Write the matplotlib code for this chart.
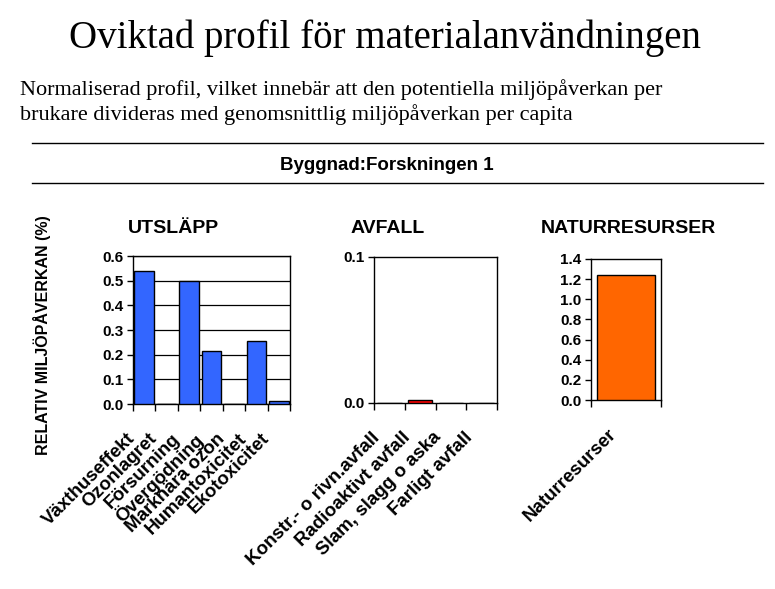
import numpy as np
import matplotlib
matplotlib.use("Agg")
import matplotlib.pyplot as plt
from matplotlib.lines import Line2D
from matplotlib.transforms import ScaledTranslation

plt.rcParams['font.family'] = ['Liberation Sans', 'DejaVu Sans']

# data
utslapp_cats = ['Växthuseffekt', 'Ozonlagret', 'Försurning', 'Övergödning',
                'Marknära ozon', 'Humantoxicitet', 'Ekotoxicitet']
utslapp_vals = [0.54, 0.0, 0.50, 0.215, 0.0, 0.255, 0.012]

avfall_cats = ['Konstr.- o rivn.avfall', 'Radioaktivt avfall',
               'Slam, slagg o aska', 'Farligt avfall']
avfall_vals = [0.0, 0.002, 0.0, 0.0]

natur_cats = ['Naturresurser']
natur_vals = [1.245]

W, H = 775, 589


def px_axes(fig, x0, y0, x1, y1):
    return fig.add_axes([x0 / W, 1 - y1 / H, (x1 - x0) / W, (y1 - y0) / H])


def style_panel(fig, ax, cats, vals, color, width, ylim, yticks, grid=False):
    n = len(cats)
    x = np.arange(n)
    ax.bar(x, vals, width=width, color=color, edgecolor='black', linewidth=1.0, zorder=3)
    ax.set_xlim(-0.5, n - 0.5)
    ax.set_ylim(*ylim)
    ax.set_yticks(yticks)
    ax.set_yticklabels([f'{v:.1f}' for v in yticks], fontsize=11, fontweight='bold')
    # category labels at centres, tick marks at category boundaries
    ax.set_xticks(x)
    ax.set_xticklabels(cats, rotation=45, ha='right', va='top', rotation_mode='anchor',
                       fontsize=13.5, fontweight='bold')
    ax.tick_params(axis='x', which='major', length=0, pad=0)
    shift = ScaledTranslation(-18 / 100, -26 / 100, fig.dpi_scale_trans)
    for lab in ax.get_xticklabels():
        lab.set_transform(lab.get_transform() + shift)
    ax.set_xticks(np.arange(n + 1) - 0.5, minor=True)
    ax.tick_params(axis='x', which='minor', length=5, width=1.0, direction='out')
    ax.tick_params(axis='y', length=4, width=1.0, direction='out', pad=3)
    for s in ax.spines.values():
        s.set_linewidth(1.0)
        s.set_color('black')
    if grid:
        ax.yaxis.grid(True, color='black', linewidth=0.9, zorder=0)


fig = plt.figure(figsize=(W / 100, H / 100), dpi=100)

fig.text(385 / W, 1 - 48 / H, 'Oviktad profil för materialanvändningen',
         ha='center', va='baseline', fontsize=28, family='Liberation Serif')
fig.text(20 / W, 1 - 95 / H,
         'Normaliserad profil, vilket innebär att den potentiella miljöpåverkan per',
         ha='left', va='baseline', fontsize=16, family='Liberation Serif')
fig.text(20 / W, 1 - 120 / H,
         'brukare divideras med genomsnittlig miljöpåverkan per capita',
         ha='left', va='baseline', fontsize=16, family='Liberation Serif')

fig.add_artist(Line2D([32 / W, 763 / W], [1 - 143 / H, 1 - 143 / H], color='black', linewidth=1.0))
fig.add_artist(Line2D([32 / W, 763 / W], [1 - 183 / H, 1 - 183 / H], color='black', linewidth=1.0))
fig.text(387 / W, 1 - 170 / H, 'Byggnad:Forskningen 1', ha='center', va='baseline',
         fontsize=13.5, fontweight='bold')

ax1 = px_axes(fig, 133, 256, 290, 404)
style_panel(fig, ax1, utslapp_cats, utslapp_vals, '#3366FF', 0.87, (0, 0.6),
            np.round(np.arange(0, 0.61, 0.1), 1), grid=True)

ax2 = px_axes(fig, 374, 257, 497, 403)
style_panel(fig, ax2, avfall_cats, avfall_vals, '#FF0000', 0.8, (0, 0.1), [0.0, 0.1])

ax3 = px_axes(fig, 591, 259, 661, 400)
style_panel(fig, ax3, natur_cats, natur_vals, '#FF6600', 0.82, (0, 1.4),
            np.round(np.arange(0, 1.41, 0.2), 1))

for label, xc in [('UTSLÄPP', 173), ('AVFALL', 388), ('NATURRESURSER', 628)]:
    fig.text(xc / W, 1 - 233 / H, label, ha='center', va='baseline',
             fontsize=14, fontweight='bold')

fig.text(42 / W, 1 - 335 / H, 'RELATIV MILJÖPÅVERKAN (%)', rotation=90,
         ha='center', va='center', fontsize=11.5, fontweight='bold')

fig.savefig('out.png', dpi=100)
